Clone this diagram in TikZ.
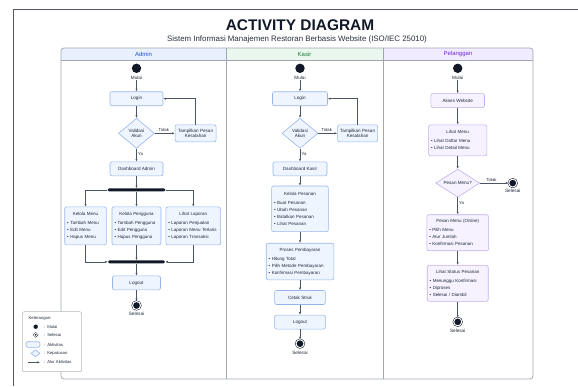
\documentclass[tikz,border=0pt]{standalone}
\usepackage{fontspec}
\setmainfont{Liberation Sans}
\usetikzlibrary{arrows.meta,positioning,shapes.geometric}
\definecolor{inkdark}{RGB}{17,24,39}
\definecolor{flowgray}{RGB}{75,85,99}
\definecolor{lanegray}{RGB}{160,166,178}
\definecolor{framegray}{RGB}{85,88,98}
\definecolor{textdark}{RGB}{31,41,55}
\definecolor{adminbg}{RGB}{232,240,254}
\definecolor{adminfg}{RGB}{29,78,216}
\definecolor{kasirbg}{RGB}{234,247,236}
\definecolor{kasirfg}{RGB}{22,128,61}
\definecolor{pelbg}{RGB}{240,235,254}
\definecolor{pelfg}{RGB}{109,40,217}
\definecolor{actfill}{RGB}{239,245,255}
\definecolor{actline}{RGB}{150,182,236}
\definecolor{pelfill}{RGB}{246,242,255}
\definecolor{pelline}{RGB}{195,175,240}
\newcommand{\boxlist}[2]{{\centering #1\par}\vspace{1.8bp}#2}
\newcommand{\bul}{\textbullet\ }

\begin{document}
\begin{tikzpicture}[x=1bp,y=-1bp,
  act/.style={draw=actline,fill=actfill,rounded corners=2bp,line width=0.6bp,align=center,minimum height=14bp,inner sep=1.5bp,text=textdark,font=\fontsize{4.6}{5.8}\selectfont},
  actlist/.style={act,align=left,inner xsep=2.5bp,font=\fontsize{4.5}{7.2}\selectfont},
  pel/.style={draw=pelline,fill=pelfill},
  decision/.style={diamond,aspect=1.5,draw=actline,fill=actfill,line width=0.6bp,align=center,inner sep=1bp,minimum width=36bp,minimum height=30bp,text=textdark,font=\fontsize{4.6}{5.6}\selectfont},
  startnode/.style={circle,fill=inkdark,inner sep=0pt,minimum size=9.4bp},
  endnode/.style={circle,fill=inkdark,draw=inkdark,double=white,double distance=1bp,line width=0.5bp,inner sep=0pt,minimum size=8bp},
  syncbar/.style={fill=inkdark,rounded corners=1.5bp,inner sep=0pt,minimum height=3bp},
  txt/.style={inner sep=0pt,text=textdark,font=\fontsize{4.7}{5}\selectfont,text height=3.4bp,text depth=0.9bp},
  lbl/.style={inner sep=1.2bp,text=textdark,font=\fontsize{4.3}{5}\selectfont},
  legtxt/.style={inner sep=0pt,text=textdark,font=\fontsize{4.2}{5}\selectfont},
  lanehd/.style={font=\fontsize{6}{7}\selectfont},
  arr/.style={-{Latex[length=2.6bp,width=2.2bp]},line width=0.6bp,draw=flowgray}
]
\useasboundingbox (0,0) rectangle (578,386);
\draw[framegray,line width=0.8bp] (13,386) -- (13,9) -- (578,9);

\node[font=\bfseries\fontsize{15.5}{17}\selectfont,text=inkdark] (title) at (300,25) {ACTIVITY DIAGRAM};
\node[font=\fontsize{7.9}{9}\selectfont,text=inkdark!90] (subtitle) at (297,39.5) {Sistem Informasi Manajemen Restoran Berbasis Website (ISO/IEC 25010)};

\begin{scope}
\clip[rounded corners=3bp] (61,48) rectangle (533,379);
\fill[adminbg] (61,48) rectangle (226,60);
\fill[kasirbg] (226,48) rectangle (383,60);
\fill[pelbg] (383,48) rectangle (533,60);
\end{scope}
\draw[lanegray,line width=0.6bp] (61,60) -- (533,60) (226,48) -- (226,379) (383,48) -- (383,379);
\draw[lanegray,line width=0.7bp,rounded corners=3bp] (61,48) rectangle (533,379);
\node[lanehd,text=adminfg] (laneA) at (143.5,54) {Admin};
\node[lanehd,text=kasirfg] (laneK) at (304.5,54) {Kasir};
\node[lanehd,text=pelfg] (laneP) at (458,54) {Pelanggan};

\node[startnode] (startA) at (136.5,68.3) {};
\node[txt,below=2.5bp of startA] (mulaiA) {Mulai};
\node[act,minimum width=53bp,below=11bp of mulaiA] (loginA) {Login};
\node[decision,below=12bp of loginA] (cekA) {Validasi\\Akun};
\node[act,minimum width=41bp,minimum height=17bp,right=20bp of cekA] (errA) {Tampilkan Pesan\\Kesalahan};
\node[act,minimum width=53bp,below=13bp of cekA] (dashA) {Dashboard Admin};
\node[syncbar,minimum width=58bp,below=12bp of dashA] (forkA) {};
\node[actlist,text width=44bp,minimum height=38bp,below=15bp of forkA] (penggunaA) {\boxlist{Kelola Pengguna}{\bul Tambah Pengguna\\\bul Edit Pengguna\\\bul Hapus Pengguna}};
\node[actlist,text width=36.7bp,minimum height=38bp,left=5bp of penggunaA] (menuA) {\boxlist{Kelola Menu}{\bul Tambah Menu\\\bul Edit Menu\\\bul Hapus Menu}};
\node[actlist,text width=49.7bp,minimum height=38bp,right=4.3bp of penggunaA] (laporanA) {\boxlist{Lihat Laporan}{\bul Laporan Penjualan\\\bul Laporan Menu Terlaris\\\bul Laporan Transaksi}};
\node[syncbar,minimum width=57bp,below=15bp of penggunaA] (joinA) {};
\node[act,minimum width=48bp,below=12bp of joinA] (logoutA) {Logout};
\node[endnode,below=11bp of logoutA] (endA) {};
\node[txt,below=2.5bp of endA] (selesaiA) {Selesai};

\draw[arr] (mulaiA) -- (loginA);
\draw[arr] (loginA) -- (cekA);
\draw[arr] (cekA) -- node[lbl,above,pos=0.45] (tidakA) {Tidak} (errA);
\draw[arr] (errA.north) |- (loginA.east);
\draw[arr] (cekA) -- node[lbl,right,pos=0.4] (yaA) {Ya} (dashA);
\draw[arr] (dashA) -- (forkA);
\draw[arr] (forkA.west) -| (menuA.north);
\draw[arr] (forkA) -- (penggunaA);
\draw[arr] (forkA.east) -| (laporanA.north);
\draw[arr] (menuA.south) |- (joinA.west);
\draw[arr] (penggunaA) -- (joinA);
\draw[arr] (laporanA.south) |- (joinA.east);
\draw[arr] (joinA) -- (logoutA);
\draw[arr] (logoutA) -- (endA);

\node[startnode] (startK) at (300,68.3) {};
\node[txt,below=2.5bp of startK] (mulaiK) {Mulai};
\node[act,minimum width=55bp,below=11bp of mulaiK] (loginK) {Login};
\node[decision,below=12bp of loginK] (cekK) {Validasi\\Akun};
\node[act,minimum width=40bp,minimum height=17bp,right=19bp of cekK] (errK) {Tampilkan Pesan\\Kesalahan};
\node[act,minimum width=54bp,below=13bp of cekK] (dashK) {Dashboard Kasir};
\node[actlist,text width=51.7bp,minimum height=45.6bp,below=9.5bp of dashK] (pesananK) {\boxlist{Kelola Pesanan}{\bul Buat Pesanan\\\bul Ubah Pesanan\\\bul Batalkan Pesanan\\\bul Lihat Pesanan}};
\node[actlist,text width=62.6bp,minimum height=36.7bp,below=11bp of pesananK] (bayarK) {\boxlist{Proses Pembayaran}{\bul Hitung Total\\\bul Pilih Metode Pembayaran\\\bul Konfirmasi Pembayaran}};
\node[act,minimum width=50.7bp,below=10bp of bayarK] (strukK) {Cetak Struk};
\node[act,minimum width=50.7bp,below=10bp of strukK] (logoutK) {Logout};
\node[endnode,below=10bp of logoutK] (endK) {};
\node[txt,below=2.5bp of endK] (selesaiK) {Selesai};

\draw[arr] (mulaiK) -- (loginK);
\draw[arr] (loginK) -- (cekK);
\draw[arr] (cekK) -- node[lbl,above,pos=0.45] (tidakK) {Tidak} (errK);
\draw[arr] (errK.north) |- (loginK.east);
\draw[arr] (cekK) -- node[lbl,right,pos=0.4] (yaK) {Ya} (dashK);
\draw[arr] (dashK) -- (pesananK);
\draw[arr] (pesananK) -- (bayarK);
\draw[arr] (bayarK) -- (strukK);
\draw[arr] (strukK) -- (logoutK);
\draw[arr] (logoutK) -- (endK);

\node[startnode] (startP) at (457.7,68.3) {};
\node[txt,below=2.5bp of startP] (mulaiP) {Mulai};
\node[act,pel,minimum width=53.6bp,below=12.9bp of mulaiP] (aksesP) {Akses Website};
\node[actlist,pel,text width=53.3bp,minimum height=31bp,below=16.6bp of aksesP] (menuP) {\boxlist{Lihat Menu}{\bul Lihat Daftar Menu\\\bul Lihat Detail Menu}};
\node[decision,pel,minimum width=44bp,minimum height=28bp,below=12.7bp of menuP] (cekP) {Pesan Menu?};
\node[endnode,right=28.5bp of cekP] (endP1) {};
\node[txt,below=2bp of endP1] (selesaiP1) {Selesai};
\node[actlist,pel,text width=56.7bp,minimum height=36bp,below=17bp of cekP] (pesanP) {\boxlist{Pesan Menu (Online)}{\bul Pilih Menu\\\bul Atur Jumlah\\\bul Konfirmasi Pesanan}};
\node[actlist,pel,text width=56bp,minimum height=36bp,below=14bp of pesanP] (statusP) {\boxlist{Lihat Status Pesanan}{\bul Menunggu Konfirmasi\\\bul Diproses\\\bul Selesai / Diambil}};
\node[endnode,below=16bp of statusP] (endP2) {};
\node[txt,below=2.5bp of endP2] (selesaiP2) {Selesai};

\draw[arr] (mulaiP) -- (aksesP);
\draw[arr] (aksesP) -- (menuP);
\draw[arr] (menuP) -- (cekP);
\draw[arr] (cekP) -- node[lbl,above,pos=0.4] (tidakP) {Tidak} (endP1);
\draw[arr] (cekP) -- node[lbl,right,pos=0.35] (yaP) {Ya} (pesanP);
\draw[arr] (pesanP) -- (statusP);
\draw[arr] (statusP) -- (endP2);

\node[draw=lanegray!80,fill=white,rounded corners=2bp,line width=0.5bp,minimum width=59.4bp,minimum height=60bp,inner sep=0pt] (legend) at (52,341.7) {};
\node[legtxt,anchor=west] (legTitle) at (28.5,318.3) {Keterangan:};
\node[startnode,minimum size=4.4bp] (legStart) at (35.7,326.7) {};
\node[legtxt,anchor=west] (legStartT) at (44,326.7) {:\hspace{2bp}Mulai};
\node[endnode,minimum size=3.4bp,double distance=0.7bp,line width=0.4bp] (legEnd) at (35.7,334.8) {};
\node[legtxt,anchor=west] (legEndT) at (44,334.8) {:\hspace{2bp}Selesai};
\node[act,minimum width=14bp,minimum height=5.6bp,inner sep=0pt] (legAct) at (33,344.5) {};
\node[legtxt,anchor=west] (legActT) at (44,344.5) {:\hspace{2bp}Aktivitas};
\node[decision,minimum width=9bp,minimum height=7bp,inner sep=0pt] (legDec) at (35.5,353.3) {};
\node[legtxt,anchor=west] (legDecT) at (44,353.3) {:\hspace{2bp}Keputusan};
\coordinate (legA1) at (28,362.3);
\coordinate (legA2) at (40,362.3);
\draw[arr] (legA1) -- (legA2);
\node[legtxt,anchor=west] (legArrT) at (44,362.3) {:\hspace{2bp}Alur Aktivitas};
\end{tikzpicture}
\end{document}
